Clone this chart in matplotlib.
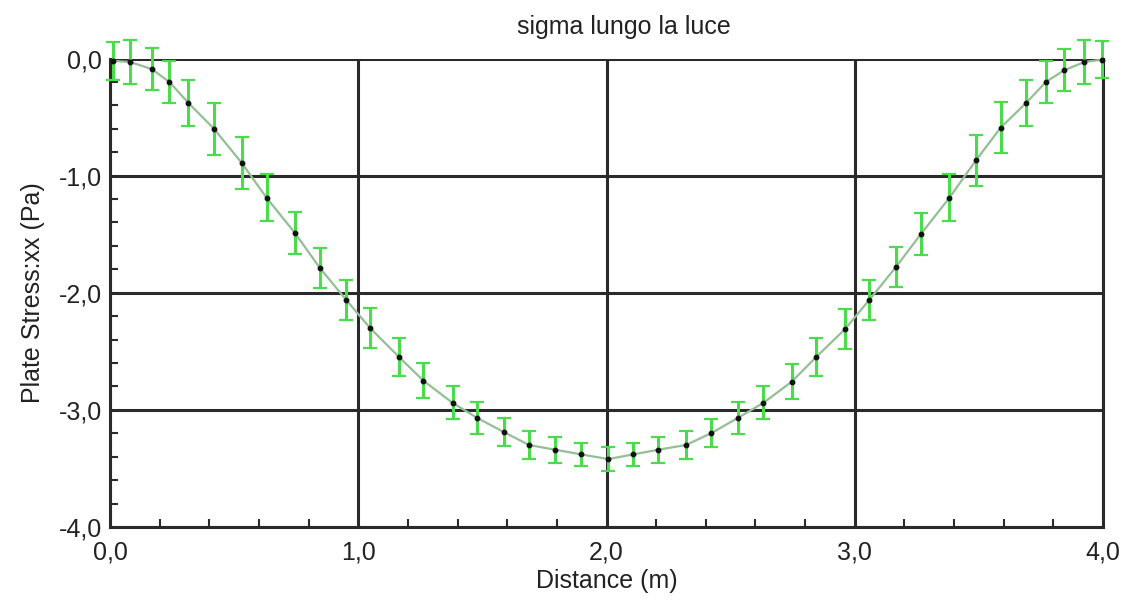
import matplotlib
matplotlib.use("Agg")
import matplotlib.pyplot as plt
from matplotlib.ticker import MultipleLocator, FixedLocator, FixedFormatter

# ---- data ----
distance = [0.013, 0.081, 0.168, 0.239, 0.316, 0.419, 0.530, 0.631, 0.745, 0.846,
            0.951, 1.047, 1.165, 1.262, 1.380, 1.480, 1.587, 1.688, 1.793, 1.898,
            2.007, 2.108, 2.209, 2.320, 2.421, 2.528, 2.632, 2.746, 2.844, 2.961,
            3.059, 3.166, 3.266, 3.381, 3.488, 3.588, 3.690, 3.770, 3.844, 3.925,
            3.995]
stress = [-0.02, -0.03, -0.09, -0.20, -0.38, -0.60, -0.89, -1.19, -1.49, -1.79,
          -2.06, -2.30, -2.55, -2.75, -2.94, -3.07, -3.19, -3.30, -3.34, -3.38,
          -3.42, -3.38, -3.34, -3.30, -3.20, -3.07, -2.94, -2.76, -2.55, -2.31,
          -2.06, -1.78, -1.50, -1.19, -0.87, -0.59, -0.38, -0.20, -0.10, -0.03,
          -0.01]
error = [0.16, 0.19, 0.18, 0.18, 0.20, 0.22, 0.22, 0.20, 0.18, 0.17,
         0.17, 0.17, 0.16, 0.15, 0.14, 0.14, 0.12, 0.12, 0.11, 0.10,
         0.10, 0.10, 0.11, 0.12, 0.12, 0.14, 0.14, 0.15, 0.16, 0.17,
         0.17, 0.17, 0.18, 0.20, 0.22, 0.22, 0.20, 0.18, 0.18, 0.19,
         0.16]

x_ticks = [0.0, 1.0, 2.0, 3.0, 4.0]
x_ticklabels = ["0,0", "1,0", "2,0", "3,0", "4,0"]
y_ticks = [0.0, -1.0, -2.0, -3.0, -4.0]
y_ticklabels = ["0,0", "-1,0", "-2,0", "-3,0", "-4,0"]

title = "sigma lungo la luce"
xlabel = "Distance (m)"
ylabel = "Plate Stress:xx (Pa)"

plt.rcParams['font.family'] = ['Liberation Sans', 'DejaVu Sans']

fig = plt.figure(figsize=(11.24, 6.03), dpi=100)
ax = fig.add_axes([110/1124, 1 - 527/603, (1103-110)/1124, (527-58.5)/603])

ax.set_xlim(0, 4)
ax.set_ylim(-4, 0)

ax.xaxis.set_major_locator(FixedLocator(x_ticks))
ax.xaxis.set_major_formatter(FixedFormatter(x_ticklabels))
ax.yaxis.set_major_locator(FixedLocator(y_ticks))
ax.yaxis.set_major_formatter(FixedFormatter(y_ticklabels))
ax.xaxis.set_minor_locator(MultipleLocator(0.2))
ax.yaxis.set_minor_locator(MultipleLocator(0.2))
ax.grid(True, which='major', color='#2a2a2a', linewidth=2.2, zorder=1)
ax.set_axisbelow(True)

for s in ax.spines.values():
    s.set_color('#2a2a2a')
    s.set_linewidth(2.2)
ax.spines['top'].set_visible(False)

ax.tick_params(which='major', length=0, pad=10, labelsize=18, colors='#222222')
ax.tick_params(axis='y', which='major', pad=6)
ax.tick_params(which='minor', direction='in', length=6, width=1.5, color='#2a2a2a')

ax.plot(distance, stress, color='#94bf94', linewidth=1.6, zorder=3)
ax.errorbar(distance, stress, yerr=error, fmt='none', ecolor='#4bdc4b',
            elinewidth=2.2, capsize=5, capthick=1.6, zorder=4, clip_on=False)
ax.plot(distance, stress, linestyle='none', marker='o', markersize=3.2,
        color='#111111', zorder=5, clip_on=False)

fig.text(624/1124, 1 - 27/603, title, ha='center', va='center', fontsize=18, color='#222222')
ax.set_xlabel(xlabel, fontsize=18, color='#222222', labelpad=3)
ax.set_ylabel(ylabel, fontsize=18, color='#222222', labelpad=10)

fig.savefig("out.png", dpi=100, facecolor='white')
